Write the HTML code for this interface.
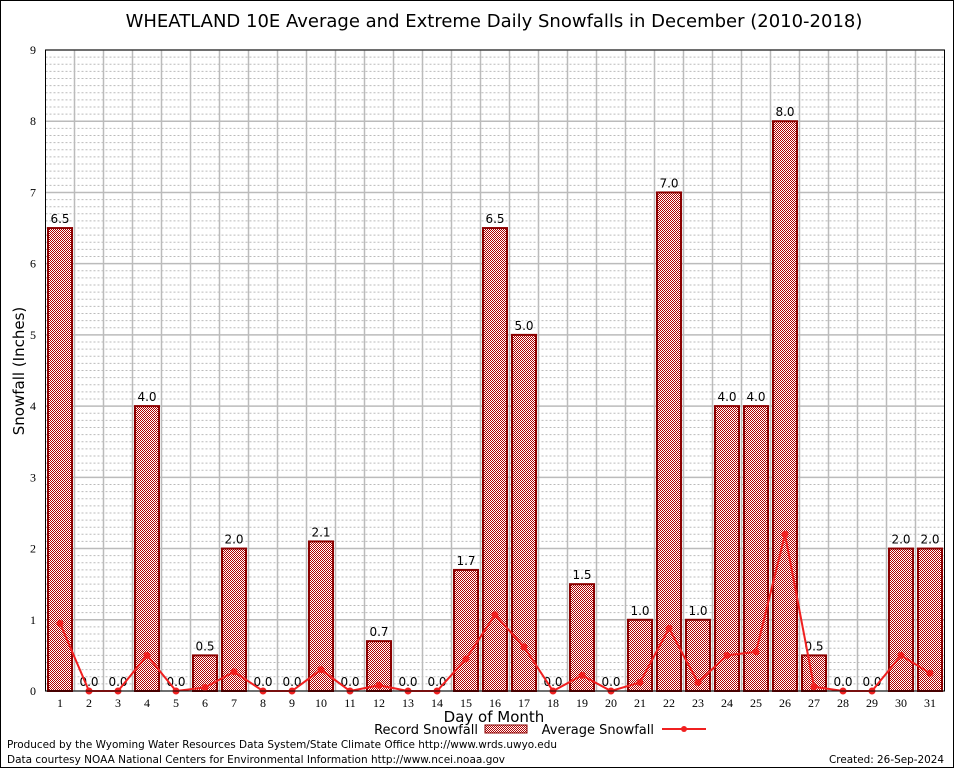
<!DOCTYPE html>
<html><head><meta charset="utf-8"><style>
body{margin:0;background:#fff}
svg{display:block;font-family:"DejaVu Sans","Liberation Sans",sans-serif}
</style></head><body>
<svg id="c" width="954" height="768">
<defs>
<pattern id="chk" width="2" height="2" patternUnits="userSpaceOnUse">
<rect width="2" height="2" fill="#ffffff"/>
<rect width="1" height="1" fill="#b00000"/>
<rect x="1" y="1" width="1" height="1" fill="#b00000"/>
</pattern>
</defs>
<rect x="0.5" y="0.5" width="953" height="767" fill="#fff" stroke="#000"/>
<text x="494" y="27" text-anchor="middle" font-size="18">WHEATLAND 10E Average and Extreme Daily Snowfalls in December (2010-2018)</text>
<g id="grid"></g>
<g id="bars"></g>
<g id="line"></g>
<g id="axes"></g>
<text transform="translate(24,371) rotate(-90)" text-anchor="middle" font-size="15">Snowfall (Inches)</text>
<text x="494" y="722" text-anchor="middle" font-size="15">Day of Month</text>
<g>
<text x="478" y="734" text-anchor="end" font-size="13">Record Snowfall</text>
<rect x="485" y="725" width="42" height="8" fill="url(#chk)" stroke="#8b0000"/>
<text x="654" y="734" text-anchor="end" font-size="13">Average Snowfall</text>
<line x1="662" y1="729" x2="706" y2="729" stroke="#f02020" stroke-width="2"/>
<circle cx="684" cy="729" r="3" fill="#f02020"/>
</g>
<text x="7" y="748" font-size="10.5" textLength="550" lengthAdjust="spacingAndGlyphs">Produced by the Wyoming Water Resources Data System/State Climate Office http://www.wrds.uwyo.edu</text>
<text x="7" y="763" font-size="10.5" textLength="498" lengthAdjust="spacingAndGlyphs">Data courtesy NOAA National Centers for Environmental Information http://www.ncei.noaa.gov</text>
<text x="944" y="763" text-anchor="end" font-size="10.5" textLength="115" lengthAdjust="spacingAndGlyphs">Created: 26-Sep-2024</text>
</svg>
<script>
const days=[1,2,3,4,5,6,7,8,9,10,11,12,13,14,15,16,17,18,19,20,21,22,23,24,25,26,27,28,29,30,31];
const recordSnow=[6.5,0,0,4.0,0,0.5,2.0,0,0,2.1,0,0.7,0,0,1.7,6.5,5.0,0,1.5,0,1.0,7.0,1.0,4.0,4.0,8.0,0.5,0,0,2.0,2.0];
const avgSnow=[0.95,0,0,0.5,0,0.05,0.27,0,0,0.3,0,0.08,0,0,0.45,1.07,0.62,0,0.22,0,0.12,0.88,0.12,0.5,0.55,2.2,0.06,0,0,0.5,0.25];
const yTicks=[0,1,2,3,4,5,6,7,8,9];
const NS="http://www.w3.org/2000/svg";
const X0=45.5,X1=944.5,Y0=691,Y1=50,YMAX=9;
const xs=d=>X0+(d-0.5)*(X1-X0)/days.length;
const ys=v=>Y0-v*(Y0-Y1)/YMAX;
function mk(t,a,p){const e=document.createElementNS(NS,t);for(const k in a)e.setAttribute(k,a[k]);p.appendChild(e);return e;}
const g=document.getElementById('grid'),b=document.getElementById('bars'),l=document.getElementById('line'),ax=document.getElementById('axes');
for(let i=1;i<YMAX*10;i++){if(i%10===0)continue;
const ln=mk('line',{x1:X0,x2:X1,y1:ys(i/10),y2:ys(i/10),stroke:'#bbb','stroke-dasharray':'2,2','stroke-width':1},g);

}
yTicks.forEach(t=>{const ln=mk('line',{x1:X0,x2:X1,y1:ys(t),y2:ys(t),stroke:'#bbb','stroke-width':1.5},g);


const tx=mk('text',{x:36,y:ys(t)+4,'text-anchor':'end','font-size':12,'font-family':'Liberation Serif,serif'},ax);tx.textContent=t;

});
days.forEach((d,i)=>{
const vx=xs(d)+(X1-X0)/days.length/2;
if(i<days.length-1){const vl=mk('line',{x1:vx,x2:vx,y1:Y1,y2:Y0,stroke:'#bbb','stroke-width':1.5},g);

}
const v=recordSnow[i];
if(v>0){const r=mk('rect',{x:xs(d)-12,y:ys(v),width:24,height:Y0-ys(v),fill:'url(#chk)',stroke:'#8b0000','stroke-width':2},b);

}
const lb=mk('text',{x:xs(d),y:ys(v)-5,'text-anchor':'middle','font-size':12},b);lb.textContent=v.toFixed(1);


const tk=mk('text',{x:xs(d),y:707,'text-anchor':'middle','font-size':12,'font-family':'Liberation Serif,serif'},ax);tk.textContent=d;


});
const pl=mk('polyline',{points:days.map((d,i)=>xs(d)+','+ys(avgSnow[i])).join(' '),fill:'none',stroke:'#f02020','stroke-width':2},l);


days.forEach((d,i)=>{const c=mk('circle',{cx:xs(d),cy:ys(avgSnow[i]),r:3.5,fill:'#f02020'},l);

});
const fr=mk('rect',{x:X0,y:Y1,width:X1-X0,height:Y0-Y1,fill:'none',stroke:'#000','stroke-width':1},ax);


</script>
</body></html>
